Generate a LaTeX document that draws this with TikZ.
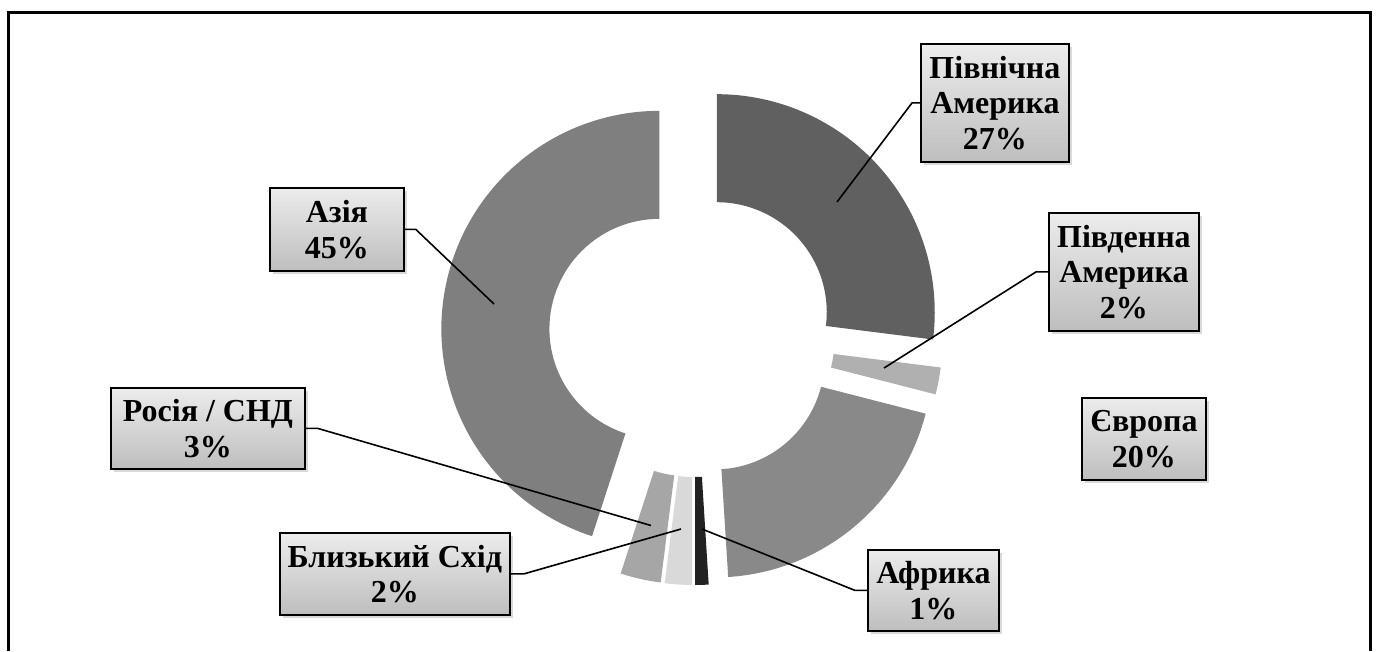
\documentclass[tikz,border=0pt]{standalone}
\usepackage{fontspec}
\setmainfont{Liberation Serif}
\usetikzlibrary{shadows}

\definecolor{namer}{RGB}{96,96,96}
\definecolor{samer}{RGB}{176,176,176}
\definecolor{europe}{RGB}{137,137,137}
\definecolor{africa}{RGB}{34,34,34}
\definecolor{mideast}{RGB}{217,217,217}
\definecolor{russia}{RGB}{166,166,166}
\definecolor{asia}{RGB}{127,127,127}
\definecolor{boxtop}{RGB}{236,236,236}
\definecolor{boxbottom}{RGB}{190,190,190}

\begin{document}
\begin{tikzpicture}[x=1pt,y=1pt,yscale=-1,xscale=1,
		labelbox/.style={draw=black, line width=1.8pt, top color=boxtop, bottom color=boxbottom,
			drop shadow={shadow xshift=3pt, shadow yshift=-3pt, opacity=0.3},
			anchor=north west, inner sep=0pt, align=center,
			font=\fontsize{32}{35.5}\selectfont\bfseries},
		leader/.style={draw=black, line width=1.6pt}]
		\useasboundingbox (0,0) rectangle (1378,651);

		% Draw the outer frame (open at the bottom)
		\draw[line width=3pt] (8,651) -- (8,12.5) -- (1370,12.5) -- (1370,651);

		% The North America segment, pulled out from the centre
		\fill[namer, shift={(716.75,312.18)}] (-90:218) arc[start angle=-90, end angle=7.2, radius=218] -- (7.2:110) arc[start angle=7.2, end angle=-90, radius=110] -- cycle;

		% The South America segment
		\fill[samer, shift={(724.42,340.18)}] (7.2:218) arc[start angle=7.2, end angle=14.4, radius=218] -- (14.4:110) arc[start angle=14.4, end angle=7.2, radius=110] -- cycle;

		% The Europe segment
		\fill[europe, shift={(714.5,359.43)}] (14.4:218) arc[start angle=14.4, end angle=86.4, radius=218] -- (86.4:110) arc[start angle=86.4, end angle=14.4, radius=110] -- cycle;

		% The Africa segment (thin black sliver)
		\fill[africa, shift={(695,366.98)}] (86.4:218) arc[start angle=86.4, end angle=90, radius=218] -- (90:110) arc[start angle=90, end angle=86.4, radius=110] -- cycle;

		% The Middle East segment
		\fill[mideast, shift={(692,366.93)}] (90:218) arc[start angle=90, end angle=97.2, radius=218] -- (97.2:110) arc[start angle=97.2, end angle=90, radius=110] -- cycle;

		% The Russia / CIS segment
		\fill[russia, shift={(688,366.21)}] (97.2:218) arc[start angle=97.2, end angle=108, radius=218] -- (108:110) arc[start angle=108, end angle=97.2, radius=110] -- cycle;

		% The Asia segment
		\fill[asia, shift={(659.41,328.84)}] (108:218) arc[start angle=108, end angle=270, radius=218] -- (270:110) arc[start angle=270, end angle=108, radius=110] -- cycle;

		% Points inside the segments where the leader lines end
		\coordinate (pnamer) at (837,202);
		\coordinate (psamer) at (884,368);
		\coordinate (pafrica) at (702,529);
		\coordinate (pmideast) at (681,529);
		\coordinate (prussia) at (651,525.5);
		\coordinate (pasia) at (494,304);

		% The labels
		\node[labelbox, minimum width=148, minimum height=118] (lnamer) at (920,43) {Північна\\Америка\\27\%};
		\node[labelbox, minimum width=150, minimum height=118] (lsamer) at (1048,212) {Південна\\Америка\\2\%};
		\node[labelbox, minimum width=124, minimum height=82] (leurope) at (1081,397) {Європа\\20\%};
		\node[labelbox, minimum width=131, minimum height=81] (lafrica) at (867,549) {Африка\\1\%};
		\node[labelbox, minimum width=230, minimum height=82] (lmideast) at (279,532) {Близький Схід\\2\%};
		\node[labelbox, minimum width=194, minimum height=81] (lrussia) at (110,387) {Росія / СНД\\3\%};
		\node[labelbox, minimum width=134, minimum height=83] (lasia) at (269,187) {Азія\\45\%};

		% Leader lines from the labels to their segments
		\draw[leader] (lnamer.west) -- ++(-8,0) -- (pnamer);
		\draw[leader] (lsamer.west) -- ++(-12,0) -- (psamer);
		\draw[leader] (lafrica.west) -- ++(-12,0) -- (pafrica);
		\draw[leader] (lmideast.east) -- ++(13,0) -- (pmideast);
		\draw[leader] (lrussia.east) -- ++(12,0) -- (prussia);
		\draw[leader] (lasia.east) -- ++(11,0) -- (pasia);
	\end{tikzpicture}
\end{document}
